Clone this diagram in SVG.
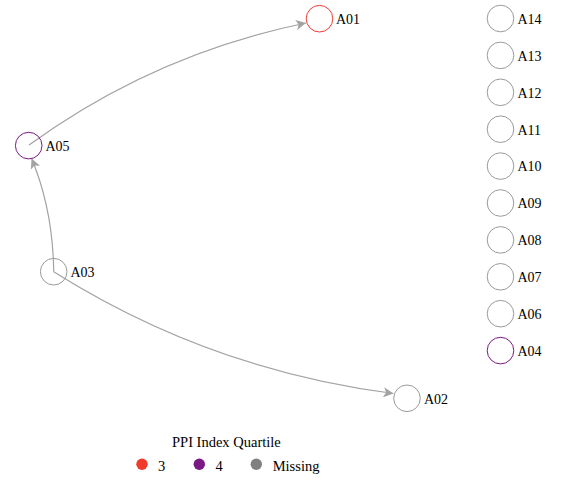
<svg xmlns="http://www.w3.org/2000/svg" width="564" height="482" viewBox="0 0 564 482">
  <style>
    text { font-family: "Liberation Serif", "Times New Roman", serif; fill: #000; }
    .lbl { font-size: 14px; }
    .leg { font-size: 14.5px; }
    .node { fill: none; stroke-width: 1; }
    .missing { stroke: #9a9a9a; }
    .q3 { stroke: #ee3b32; }
    .q4 { stroke: #7b1984; }
    .edge { fill: none; stroke: #a3a3a3; stroke-width: 1.2; marker-end: url(#arrow); }
  </style>
  <defs>
    <marker id="arrow" viewBox="0 0 10 10" refX="10" refY="5" markerWidth="10" markerHeight="10" markerUnits="userSpaceOnUse" orient="auto">
      <path d="M0,0 L10,5 L0,10 L2.5,5 z" fill="#a3a3a3"/>
    </marker>
  </defs>
  <rect width="564" height="482" fill="#ffffff"/>

  <g id="edges">
    <path class="edge" d="M29,145 Q154,54 306,23"/>
    <path class="edge" d="M53.7,271.7 Q53,210 31.6,158.5"/>
    <path class="edge" d="M53.7,271.7 Q210,370 393.5,393.5"/>
  </g>

  <g id="A01"><circle class="node q3" cx="319.5" cy="18.7" r="13.3"/><text class="lbl" x="336" y="24">A01</text></g>
  <g id="A05"><circle class="node q4" cx="28.7" cy="145.6" r="13.3"/><text class="lbl" x="45.5" y="151">A05</text></g>
  <g id="A03"><circle class="node missing" cx="53.7" cy="271.7" r="13.3"/><text class="lbl" x="70.5" y="277">A03</text></g>
  <g id="A02"><circle class="node missing" cx="407" cy="398.3" r="13.3"/><text class="lbl" x="424" y="403.5">A02</text></g>

  <g id="A14"><circle class="node missing" cx="500.5" cy="18.5" r="13.3"/><text class="lbl" x="517.5" y="23.8">A14</text></g>
  <g id="A13"><circle class="node missing" cx="500.5" cy="55.4" r="13.3"/><text class="lbl" x="517.5" y="60.7">A13</text></g>
  <g id="A12"><circle class="node missing" cx="500.5" cy="92.3" r="13.3"/><text class="lbl" x="517.5" y="97.6">A12</text></g>
  <g id="A11"><circle class="node missing" cx="500.5" cy="129.2" r="13.3"/><text class="lbl" x="517.5" y="134.5">A11</text></g>
  <g id="A10"><circle class="node missing" cx="500.5" cy="166.1" r="13.3"/><text class="lbl" x="517.5" y="171.4">A10</text></g>
  <g id="A09"><circle class="node missing" cx="500.5" cy="203" r="13.3"/><text class="lbl" x="517.5" y="208.3">A09</text></g>
  <g id="A08"><circle class="node missing" cx="500.5" cy="239.9" r="13.3"/><text class="lbl" x="517.5" y="245.2">A08</text></g>
  <g id="A07"><circle class="node missing" cx="500.5" cy="276.8" r="13.3"/><text class="lbl" x="517.5" y="282.1">A07</text></g>
  <g id="A06"><circle class="node missing" cx="500.5" cy="313.7" r="13.3"/><text class="lbl" x="517.5" y="319">A06</text></g>
  <g id="A04"><circle class="node q4" cx="500.5" cy="350.6" r="13.3"/><text class="lbl" x="517.5" y="355.9">A04</text></g>

  <g id="legend">
    <text class="leg" x="172" y="447">PPI Index Quartile</text>
    <circle cx="142" cy="464.3" r="5.7" fill="#ee3b2b"/>
    <text class="leg" x="158" y="470.5">3</text>
    <circle cx="199.3" cy="464.3" r="5.7" fill="#7b1984"/>
    <text class="leg" x="215.5" y="470.5">4</text>
    <circle cx="256.3" cy="464.3" r="5.7" fill="#808080"/>
    <text class="leg" x="272.7" y="470.5">Missing</text>
  </g>
</svg>
